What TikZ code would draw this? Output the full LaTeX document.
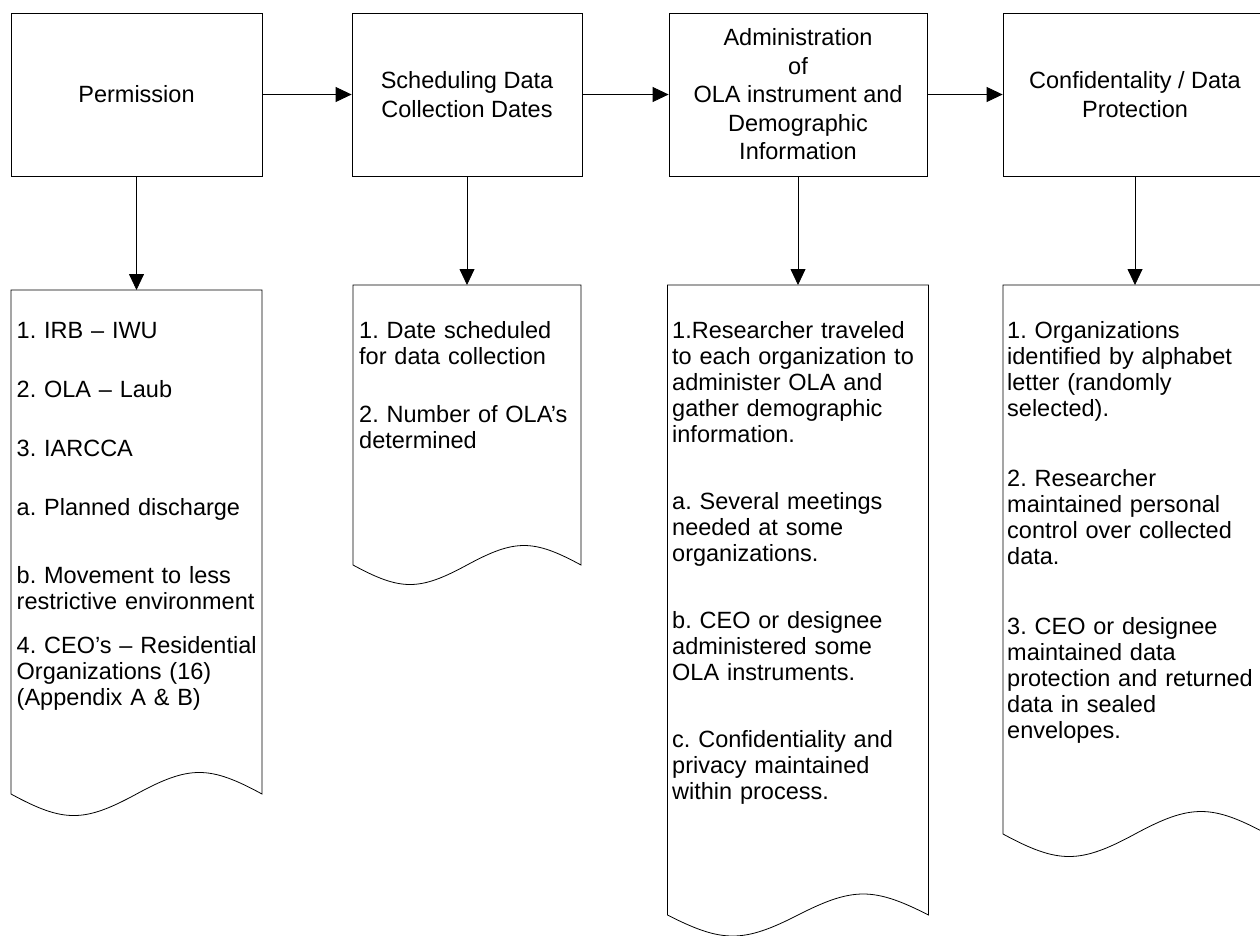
\documentclass[tikz,border=0pt]{standalone}
\usepackage{fontspec}
\setmainfont{Liberation Sans}
\usetikzlibrary{arrows.meta,calc}
\frenchspacing
\newcommand\drawdoc[3]{%
  \draw[docline] (#1.south west) -- (#1.north west) -- (#1.north east) -- (#1.south east)
    .. controls ($(#1.south east)+(-#2,-#3)$) and ($(#1.south)+(#2,-#3)$) .. (#1.south)
    .. controls ($(#1.south)+(-#2,#3)$) and ($(#1.south west)+(#2,#3)$) .. (#1.south west) -- cycle;}
\begin{document}
\frenchspacing
\begin{tikzpicture}[x=1pt,y=-1pt,
  proc/.style={draw, line width=0.8pt, align=center, inner sep=0pt, font=\fontsize{23.5}{28.5}\selectfont},
  docbox/.style={inner sep=0pt, outer sep=0pt},
  doctext/.style={anchor=north west, inner sep=0pt, text width=#1, align=left, font=\frenchspacing\fontsize{23.5}{26}\selectfont},
  flow/.style={line width=0.8pt, -{Triangle[length=16pt,width=15pt]}},
  docline/.style={line width=0.8pt}]
\useasboundingbox (0,0) rectangle (1260,935);
\clip (0,0) rectangle (1260,935);
% process boxes
\node[proc, minimum width=251pt, minimum height=163pt] (b1) at (136.5,94.5) {Permission};
\node[proc, minimum width=230pt, minimum height=163pt] (b2) at (467,94.5) {Scheduling Data\\Collection Dates};
\node[proc, minimum width=258pt, minimum height=163pt] (b3) at (798,94.5) {Administration\\of\\OLA instrument and\\Demographic\\Information};
\node[proc, minimum width=264pt, minimum height=163pt] (b4) at (1135,94.5) {Confidentality / Data\\Protection};
% document shapes
\node[docbox, minimum width=251pt, minimum height=504pt] (d1) at (136.5,542) {};
\node[docbox, minimum width=228pt, minimum height=280pt] (d2) at (467,425) {};
\node[docbox, minimum width=261pt, minimum height=630pt] (d3) at (798,600) {};
\node[docbox, minimum width=264pt, minimum height=549pt] (d4) at (1135,559.5) {};
\drawdoc{d1}{52.7}{28.7}
\drawdoc{d2}{47.9}{26}
\drawdoc{d3}{54.8}{28}
\drawdoc{d4}{55.4}{30}
% connectors
\draw[flow] (b1) -- (b2);
\draw[flow] (b2) -- (b3);
\draw[flow] (b3) -- (b4);
\draw[flow] (b1) -- (d1);
\draw[flow] (b2) -- (d2);
\draw[flow] (b3) -- (d3);
\draw[flow] (b4) -- (d4);
% texts
\node[doctext=250pt] (t1) at (16.5,320) {\strut 1. IRB – IWU\par\vspace{33pt}%
2. OLA – Laub\par\vspace{33pt}%
3. IARCCA\par\vspace{33pt}%
a. Planned discharge\par\vspace{42pt}%
b. Movement to less\\restrictive environment\par\vspace{18pt}%
4. CEO’s – Residential\\Organizations (16)\\(Appendix A \& B)};
\node[doctext=230pt] (t2) at (359,320) {\strut 1. Date scheduled\\for data collection\par\vspace{32pt}%
2. Number of OLA’s\\determined};
\node[doctext=260pt] (t3) at (672,320) {\strut 1.Researcher traveled\\to each organization to\\administer OLA and\\gather demographic\\information.\par\vspace{41pt}%
a. Several meetings\\needed at some\\organizations.\par\vspace{41pt}%
b. CEO or designee\\administered some\\OLA instruments.\par\vspace{41pt}%
c. Confidentiality and\\privacy maintained\\within process.};
\node[doctext=260pt] (t4) at (1007,320) {\strut 1. Organizations\\identified by alphabet\\letter (randomly\\selected).\par\vspace{44pt}%
2. Researcher\\maintained personal\\control over collected\\data.\par\vspace{44pt}%
3. CEO or designee\\maintained data\\protection and returned\\data in sealed\\envelopes.};
\end{tikzpicture}
\end{document}
